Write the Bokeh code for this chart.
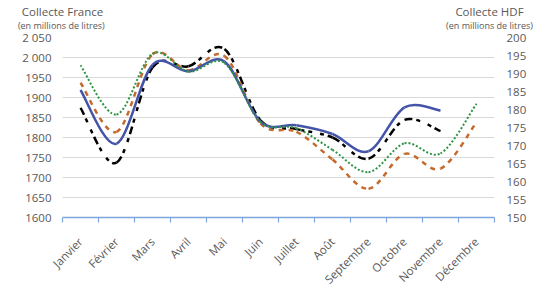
from math import pi
from bokeh.plotting import figure
from bokeh.models import (Range1d, LinearAxis, FixedTicker, Legend, LegendItem)
from bokeh.core.properties import value
from bokeh.embed import file_html
from bokeh.resources import INLINE

months = ["Janvier", "Février", "Mars", "Avril", "Mai", "Juin", "Juillet",
          "Août", "Septembre", "Octobre", "Novembre", "Décembre"]
france_2025 = [1874, 1737, 1975, 1978, 2021, 1843, 1821, 1800, 1747, 1844, 1816]
moy5_france = [1937, 1814, 2008, 1968, 2004, 1835, 1814, 1745, 1672, 1759, 1722, 1838]
hdf_2025 = [185.4, 170.5, 192.4, 190.6, 193.3, 176.6, 175.6, 173.2, 168.4, 180.6, 179.7]
moy5_hdf = [192.3, 178.6, 195.5, 190.5, 192.9, 176.6, 174.8, 168.8, 162.6, 170.6, 167.8, 181.6]

left_ticks = list(range(1600, 2051, 50))
right_ticks = list(range(150, 201, 5))

FONT = "Open Sans"
GREY = "#595959"

p = figure(frame_width=432, frame_height=180, x_range=Range1d(0, 12),
           y_range=Range1d(1600, 2050), output_backend="svg", toolbar_location=None,
           min_border_left=62, min_border_right=47, min_border_top=37, min_border_bottom=10)
p.outline_line_color = None
p.background_fill_color = "white"
p.extra_y_ranges = {"hdf": Range1d(150, 200)}
p.extra_x_ranges = {"ttl": Range1d(62, 494)}

xa = p.below[0]
ya = p.left[0]


def plain_axis(ax, size, standoff):
    ax.axis_line_color = None
    ax.major_tick_line_color = None
    ax.minor_tick_line_color = None
    ax.major_tick_out = 0
    ax.major_tick_in = 0
    ax.major_label_standoff = standoff
    ax.major_label_text_font = FONT
    ax.major_label_text_font_size = size
    ax.major_label_text_color = GREY


# axis titles, drawn as labels of two axes above the plot
sub_ax = LinearAxis(x_range_name="ttl", ticker=FixedTicker(ticks=[62, 489]),
                    major_label_overrides={62: "(en millions  de litres)",
                                           489: "(en millions de litres)"})
plain_axis(sub_ax, "9px", 6)
p.add_layout(sub_ax, "above")
ttl_ax = LinearAxis(x_range_name="ttl", ticker=FixedTicker(ticks=[62, 489]),
                    major_label_overrides={62: "Collecte France", 489: "Collecte HDF"})
plain_axis(ttl_ax, "11.5px", -3)
p.add_layout(ttl_ax, "above")

# month axis
label_pos = [i + 0.5 for i in range(12)]
xa.ticker = FixedTicker(ticks=label_pos, minor_ticks=list(range(13)))
xa.major_label_overrides = {x: m for x, m in zip(label_pos, months)}
xa.major_label_orientation = pi / 4
xa.axis_line_color = "#7EA6DC"
xa.axis_line_width = 1.5
xa.major_tick_line_color = None
xa.major_tick_out = 0
xa.major_tick_in = 0
xa.minor_tick_line_color = "#7EA6DC"
xa.minor_tick_line_width = 1.2
xa.minor_tick_out = 5
xa.minor_tick_in = 0
xa.major_label_standoff = 17
xa.major_label_text_font = FONT
xa.major_label_text_font_size = "11.5px"
xa.major_label_text_color = GREY

ya.ticker = FixedTicker(ticks=left_ticks)
ya.major_label_overrides = {2050: "2 050", 2000: "2 000"}
plain_axis(ya, "11.5px", 11)

ra = LinearAxis(y_range_name="hdf", ticker=FixedTicker(ticks=right_ticks))
plain_axis(ra, "11.5px", 12)
p.add_layout(ra, "right")

p.xgrid.visible = False
p.ygrid.ticker = FixedTicker(ticks=left_ticks)
p.ygrid.grid_line_color = "#D9D9D9"
p.ygrid.grid_line_width = 1


def smooth(values):
    xs = [i + 0.5 for i in range(len(values))]
    pts = list(zip(xs, values))
    n = len(pts)
    d = dict(x0=[], y0=[], x1=[], y1=[], cx0=[], cy0=[], cx1=[], cy1=[])
    for i in range(n - 1):
        pm = pts[i - 1] if i > 0 else pts[i]
        p0 = pts[i]
        p1 = pts[i + 1]
        p2 = pts[i + 2] if i + 2 < n else pts[i + 1]
        d["x0"].append(p0[0]); d["y0"].append(p0[1])
        d["x1"].append(p1[0]); d["y1"].append(p1[1])
        d["cx0"].append(p0[0] + (p1[0] - pm[0]) / 6)
        d["cy0"].append(p0[1] + (p1[1] - pm[1]) / 6)
        d["cx1"].append(p1[0] - (p2[0] - p0[0]) / 6)
        d["cy1"].append(p1[1] - (p2[1] - p0[1]) / 6)
    return d


r_fr = p.bezier(source=smooth(france_2025), x0="x0", y0="y0", x1="x1", y1="y1",
                cx0="cx0", cy0="cy0", cx1="cx1", cy1="cy1",
                line_color="black", line_width=2.5, line_dash=value("8 4 1.5 4"))
r_mf = p.bezier(source=smooth(moy5_france), x0="x0", y0="y0", x1="x1", y1="y1",
                cx0="cx0", cy0="cy0", cx1="cx1", cy1="cy1",
                line_color="#C46A2C", line_width=2.5, line_dash=value("5 2.5"))
r_hdf = p.bezier(source=smooth(hdf_2025), x0="x0", y0="y0", x1="x1", y1="y1",
                 cx0="cx0", cy0="cy0", cx1="cx1", cy1="cy1", y_range_name="hdf",
                 line_color="#4454A8", line_width=2.5)
r_mh = p.bezier(source=smooth(moy5_hdf), x0="x0", y0="y0", x1="x1", y1="y1",
                cx0="cx0", cy0="cy0", cx1="cx1", cy1="cy1", y_range_name="hdf",
                line_color="#2E9444", line_width=2, line_dash=value("1.5 2"))

legend = Legend(items=[
    LegendItem(label="France 2025", renderers=[r_fr]),
    LegendItem(label="Moy 5 ans France", renderers=[r_mf]),
    LegendItem(label="HDF 2025", renderers=[r_hdf]),
    LegendItem(label="Moy 5 ans HDF", renderers=[r_mh]),
], orientation="horizontal", location=(-12, 8), border_line_color=None,
    background_fill_alpha=0, label_text_font=FONT, label_text_font_size="11px",
    label_text_color=GREY, glyph_width=22, glyph_height=12, label_height=12,
    label_standoff=5, spacing=18, padding=0, margin=0)
p.add_layout(legend, "below")

open("out.html", "w").write(file_html(p, INLINE))
